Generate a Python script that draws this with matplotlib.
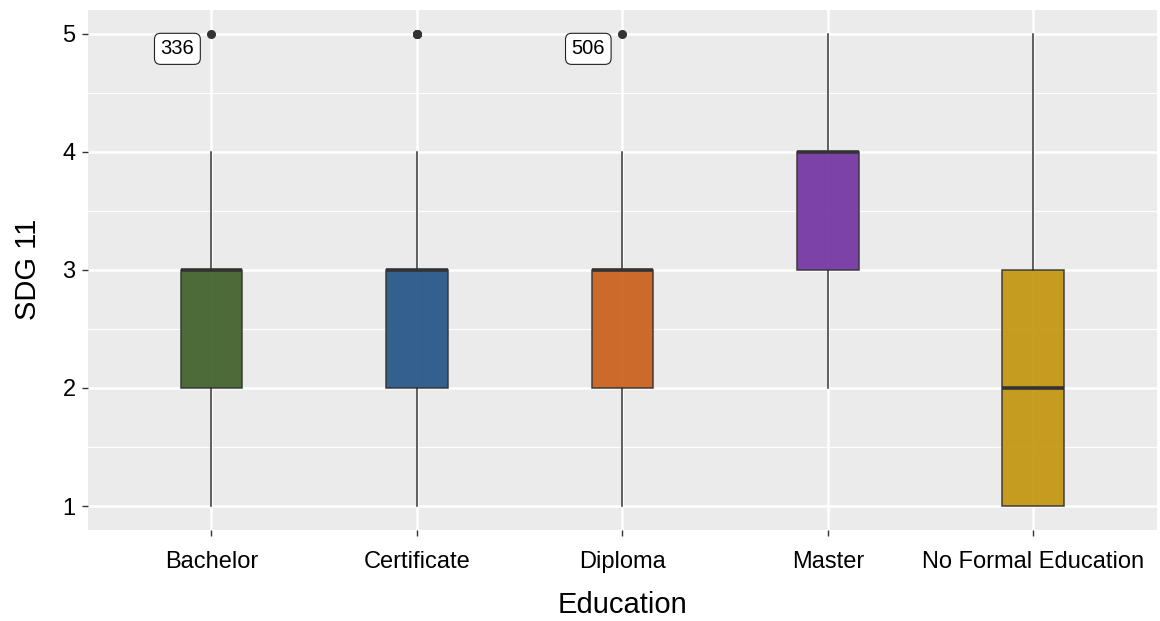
import matplotlib
matplotlib.use("Agg")
import matplotlib.pyplot as plt

plt.rcParams['font.family'] = ['Liberation Sans', 'DejaVu Sans']

# ── Data ────────────────────────────────────────────────────────────────────
categories = ["Bachelor", "Certificate", "Diploma", "Master", "No Formal Education"]
whisker_lo = [1, 1, 1, 2, 1]
q1         = [2, 2, 2, 3, 1]
medians    = [3, 3, 3, 4, 2]
q3         = [3, 3, 3, 4, 3]
whisker_hi = [4, 4, 4, 5, 5]
outliers   = [[5], [5, 5, 5], [5], [], []]
outlier_labels = ["336", None, "506", None, None]
colors = ["#3f5f2a", "#245487", "#c95f1a", "#7433a3", "#c2960f"]

stats = []
for i, name in enumerate(categories):
    stats.append(dict(label=name, whislo=whisker_lo[i], q1=q1[i], med=medians[i],
                      q3=q3[i], whishi=whisker_hi[i], fliers=outliers[i]))

fig, ax = plt.subplots(figsize=(11.6, 6.21), dpi=100)
fig.subplots_adjust(left=0.076, right=0.997, top=0.984, bottom=0.147)
ax.set_facecolor("#EBEBEB")

positions = list(range(1, len(categories) + 1))
bp = ax.bxp(stats, positions=positions, widths=0.3, patch_artist=True,
            boxprops=dict(edgecolor="#333333", linewidth=1.1),
            medianprops=dict(color="#333333", linewidth=2.6),
            whiskerprops=dict(color="#333333", linewidth=1.1),
            capprops=dict(linewidth=0),
            flierprops=dict(marker="o", markerfacecolor="#333333",
                            markeredgecolor="#333333", markersize=5.5))
for patch, c in zip(bp["boxes"], colors):
    patch.set_facecolor(c)
    patch.set_alpha(0.92)
    patch.set_edgecolor("#333333")

for i, lab in enumerate(outlier_labels):
    if lab is None:
        continue
    ax.annotate(lab, (positions[i], outliers[i][0]), xytext=(-24.5, -11),
                textcoords="offset points", fontsize=14.5, ha="center", va="center",
                bbox=dict(boxstyle="round,pad=0.3,rounding_size=0.3",
                          fc="white", ec="#222222", lw=0.8))

ax.set_xlim(0.4, 5.6)
ax.set_ylim(0.8, 5.2)
ax.set_yticks([1, 2, 3, 4, 5])
ax.set_yticks([1.5, 2.5, 3.5, 4.5], minor=True)
ax.set_xticks(positions)
ax.set_xticklabels(categories)
ax.grid(True, which="major", color="white", linewidth=1.8)
ax.grid(True, which="minor", axis="y", color="white", linewidth=0.8)
ax.set_axisbelow(True)
for s in ax.spines.values():
    s.set_visible(False)
ax.tick_params(axis="both", which="major", length=4, width=1, color="#333333",
               labelsize=17, labelcolor="black", pad=5)
ax.tick_params(axis="x", which="major", pad=11)
ax.tick_params(axis="y", which="minor", length=0)
ax.set_xlabel("Education", fontsize=21, labelpad=13)
ax.set_ylabel("SDG 11", fontsize=21, labelpad=15)

fig.savefig("out.png", dpi=100)
